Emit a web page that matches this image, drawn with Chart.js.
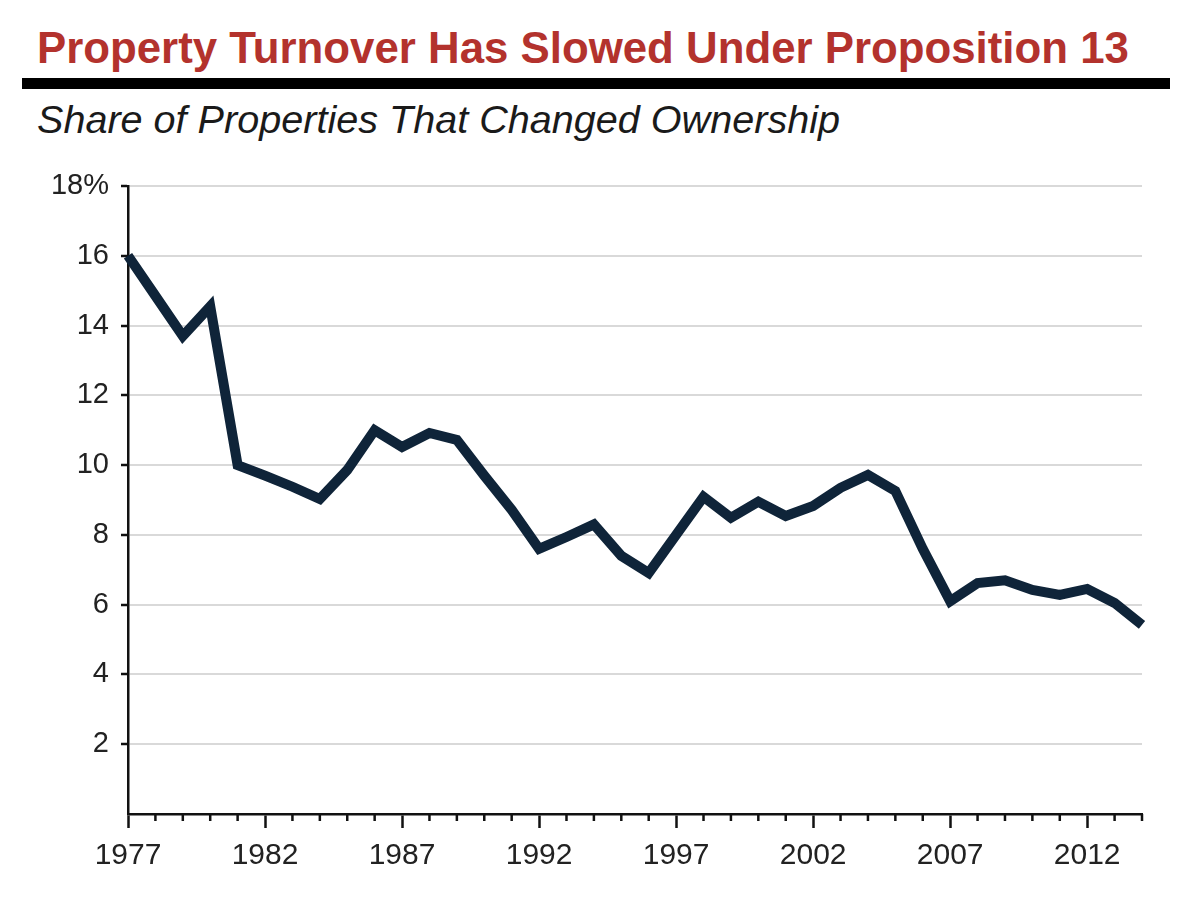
<!DOCTYPE html>
<html>
<head>
<meta charset="utf-8">
<script src="https://cdn.jsdelivr.net/npm/chart.js@4"></script>
<style>
  html, body { margin: 0; padding: 0; background: #fff; }
  #wrap { position: relative; width: 1200px; height: 902px; overflow: hidden; }
  #title {
    position: absolute; left: 37px; top: 20px; margin: 0;
    font: bold 43.8px "Liberation Sans", Arial, sans-serif; color: #b3322d;
    white-space: nowrap; line-height: 56px;
  }
  #rule { position: absolute; left: 22px; top: 78px; width: 1148px; height: 11px; background: #000; }
  #subtitle {
    position: absolute; left: 37px; top: 95px; margin: 0;
    font: italic 39.6px "Liberation Sans", Arial, sans-serif; color: #1a1a1a;
    white-space: nowrap; line-height: 48px;
  }
  canvas { position: absolute; left: 0; top: 0; }
</style>
</head>
<body>
<div id="wrap">
  <h1 id="title">Property Turnover Has Slowed Under Proposition 13</h1>
  <div id="rule"></div>
  <p id="subtitle">Share of Properties That Changed Ownership</p>
  <canvas id="chart" width="1200" height="902"></canvas>
</div>
<script>
(function() {
  'use strict';

  // ── Data ──
  var years = [1977, 1978, 1979, 1980, 1981, 1982, 1983, 1984, 1985, 1986,
               1987, 1988, 1989, 1990, 1991, 1992, 1993, 1994, 1995, 1996,
               1997, 1998, 1999, 2000, 2001, 2002, 2003, 2004, 2005, 2006,
               2007, 2008, 2009, 2010, 2011, 2012, 2013, 2014];
  var turnover = [16.0, 14.85, 13.7, 14.55, 10.0, 9.7, 9.38, 9.03, 9.86, 11.0,
                  10.52, 10.92, 10.72, 9.7, 8.72, 7.6, 7.94, 8.3, 7.4, 6.91,
                  8.0, 9.09, 8.49, 8.95, 8.54, 8.83, 9.35, 9.72, 9.26, 7.6,
                  6.1, 6.62, 6.7, 6.42, 6.28, 6.45, 6.05, 5.42];
  var yTicks = [0, 2, 4, 6, 8, 10, 12, 14, 16, 18];

  var FONT = '"Liberation Sans", Arial, sans-serif';

  function isMajor(i) { return (years[i] - 1977) % 5 === 0; }

  // short ticks for the in-between years
  var minorTicks = {
    id: 'minorTicks',
    afterDraw: function(chart) {
      var x = chart.scales.x, ctx = chart.ctx;
      ctx.save();
      ctx.strokeStyle = '#111';
      ctx.lineWidth = 2.5;
      years.forEach(function(y, i) {
        if (isMajor(i)) return;
        var px = x.getPixelForValue(i);
        ctx.beginPath();
        ctx.moveTo(px, x.top);
        ctx.lineTo(px, x.top + 7);
        ctx.stroke();
      });
      ctx.restore();
    }
  };

  new Chart(document.getElementById('chart'), {
    type: 'line',
    data: {
      labels: years.map(String),
      datasets: [{
        data: turnover,
        borderColor: '#0f2439',
        borderWidth: 10,
        borderJoinStyle: 'miter',
        borderCapStyle: 'butt',
        pointRadius: 0,
        tension: 0,
        fill: false
      }]
    },
    options: {
      responsive: false,
      animation: false,
      layout: { padding: { top: 186, right: 58, bottom: 0, left: 0 } },
      plugins: { legend: { display: false }, tooltip: { enabled: false } },
      scales: {
        x: {
          offset: false,
          afterFit: function(s) { s.height = 88; },
          border: { display: true, color: '#111', width: 2.5 },
          grid: {
            drawOnChartArea: false,
            drawTicks: true,
            tickLength: 14,
            tickWidth: 2.5,
            tickColor: function(c) { return isMajor(c.index) ? '#111' : 'rgba(0,0,0,0)'; }
          },
          ticks: {
            autoSkip: false,
            maxRotation: 0,
            padding: 10,
            color: '#222',
            font: { family: FONT, size: 30 },
            callback: function(v, i) { return isMajor(i) ? years[i] : ''; }
          }
        },
        y: {
          min: 0,
          max: 18,
          afterFit: function(s) { s.width = 128; },
          afterBuildTicks: function(s) { s.ticks = yTicks.map(function(v) { return { value: v }; }); },
          border: { display: true, color: '#111', width: 2.5 },
          grid: {
            color: function(c) { return c.tick && c.tick.value === 0 ? 'rgba(0,0,0,0)' : '#d9d9d9'; },
            lineWidth: 2,
            drawTicks: true,
            tickLength: 7,
            tickWidth: 2.5,
            tickColor: function(c) { return c.tick && c.tick.value === 0 ? 'rgba(0,0,0,0)' : '#111'; }
          },
          ticks: {
            padding: 12,
            color: '#222',
            font: { family: FONT, size: 29 },
            callback: function(v) {
              if (v === 0) return '';
              return v === 18 ? '18%' : String(v);
            }
          }
        }
      }
    },
    plugins: [minorTicks]
  });
})();
</script>
</body>
</html>
